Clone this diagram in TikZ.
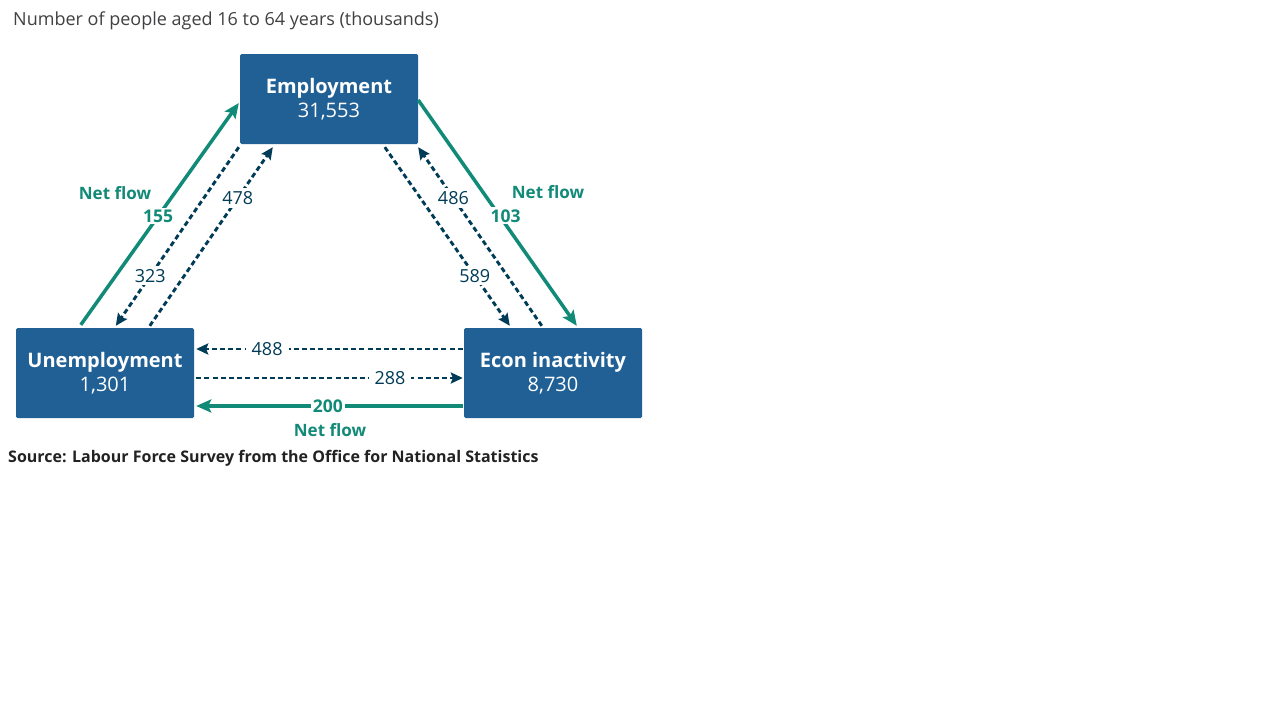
\documentclass[tikz,border=0pt]{standalone}
\usepackage{fontspec}
\setmainfont{Open Sans}
\usetikzlibrary{arrows.meta,calc}
\definecolor{boxblue}{HTML}{206095}
\definecolor{netgreen}{HTML}{118A77}
\definecolor{navy}{HTML}{003C57}
\definecolor{titlegray}{HTML}{414042}
\definecolor{srcgray}{HTML}{222222}
\tikzset{
  box/.style={fill=boxblue, rounded corners=1.5pt, minimum width=178pt, minimum height=90pt,
    inner sep=0pt, text=white, align=center, font=\fontsize{20}{24.5}\selectfont},
  netline/.style={draw=netgreen, line width=3.5pt, -{Stealth[length=15pt,width=13pt,inset=3pt]}},
  flowline/.style={draw=navy, line width=2.9pt, dash pattern=on 5pt off 3.2pt,
    -{Stealth[length=12pt,width=11pt,inset=2pt]}},
  netlab/.style={fill=white, text=netgreen, inner sep=2pt, font=\fontsize{17.5}{20}\selectfont\bfseries},
  netword/.style={text=netgreen, inner sep=0pt, font=\fontsize{17}{20}\selectfont\bfseries},
  flowlab/.style={fill=white, text=navy, inner sep=3pt, font=\fontsize{18}{20}\selectfont},
}
\begin{document}
\begin{tikzpicture}[x=1pt,y=-1pt]
\useasboundingbox (0,0) rectangle (1280,720);
\fill[white] (0,0) rectangle (1280,720);

\node[anchor=west, text=titlegray, inner sep=0pt, font=\fontsize{18}{21}\selectfont] (title) at (13,21) {Number of people aged 16 to 64 years (thousands)};

\node[box] (emp) at (329,99) {\textbf{Employment}\\31,553};
\node[box] (unemp) at (105,373) {\textbf{Unemployment}\\1,301};
\node[box] (econ) at (553,373) {\textbf{Econ inactivity}\\8,730};

% anchor points for connectors
\coordinate (uTopA) at ($(unemp.north west)+(65,-3)$);
\coordinate (uTopB) at ($(unemp.north west)+(100,-2)$);
\coordinate (uTopC) at ($(unemp.north west)+(134,-2)$);
\coordinate (eWestA) at ($(emp.west)+(-1,4)$);
\coordinate (eBotA) at ($(emp.south west)+(-1,3)$);
\coordinate (eBotB) at ($(emp.south west)+(33,3)$);
\coordinate (eBotC) at ($(emp.south west)+(145,3)$);
\coordinate (eBotD) at ($(emp.south east)+(0,3)$);
\coordinate (eEastA) at ($(emp.east)+(0,1)$);
\coordinate (iTopA) at ($(econ.north west)+(46,-2)$);
\coordinate (iTopB) at ($(econ.north west)+(78,-2)$);
\coordinate (iTopC) at ($(econ.north west)+(113,-2)$);
\coordinate (iW1) at ($(econ.west)+(-1,-24)$);
\coordinate (uE1) at ($(unemp.east)+(2,-24)$);
\coordinate (uE2) at ($(unemp.east)+(2,5)$);
\coordinate (iW2) at ($(econ.west)+(-1,5)$);
\coordinate (iW3) at ($(econ.west)+(-1,33)$);
\coordinate (uE3) at ($(unemp.east)+(2,33)$);

% net flows
\draw[netline] (uTopA) -- node[netlab, pos=0.49] (n155) {155} (eWestA);
\node[netword] (nf1) at (115,193) {Net flow};
\draw[netline] (eEastA) -- node[netlab, pos=0.513, xshift=6pt] (n103) {103} (iTopC);
\node[netword] (nf2) at (548,192) {Net flow};
\draw[netline] (iW3) -- node[netlab, pos=0.506] (n200) {200} (uE3);
\node[netword] (nf3) at (330,430) {Net flow};

% gross flows
\draw[flowline] (eBotA) -- node[flowlab, pos=0.72] (f323) {323} (uTopB);
\draw[flowline] (uTopC) -- node[flowlab, pos=0.715] (f478) {478} (eBotB);
\draw[flowline] (eBotC) -- node[flowlab, pos=0.72] (f589) {589} (iTopA);
\draw[flowline] (iTopB) -- node[flowlab, pos=0.715] (f486) {486} (eBotD);
\draw[flowline] (iW1) -- node[flowlab, pos=0.734, inner xsep=6pt] (f488) {488} (uE1);
\draw[flowline] (uE2) -- node[flowlab, pos=0.727, inner xsep=6pt] (f288) {288} (iW2);

\node[anchor=west, text=srcgray, inner sep=0pt, font=\fontsize{16}{19}\selectfont\bfseries] (src) at (8,458) {Source: Labour Force Survey from the Office for National Statistics};
\end{tikzpicture}
\end{document}
